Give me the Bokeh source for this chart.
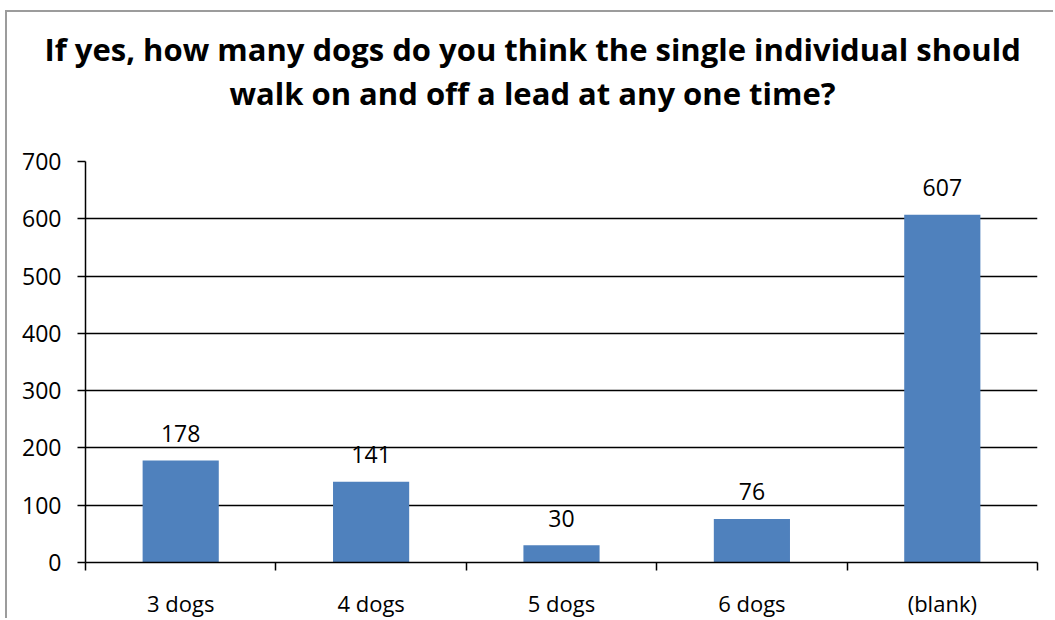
from bokeh.plotting import figure
from bokeh.models import ColumnDataSource, FixedTicker, Range1d, Title
from bokeh.core.properties import value
from bokeh.embed import file_html
from bokeh.resources import INLINE

title_lines = ["If yes, how many dogs do you think the single individual should",
               "walk on and off a lead at any one time?"]
categories = ["3 dogs", "4 dogs", "5 dogs", "6 dogs", "(blank)"]
counts = [178, 141, 30, 76, 607]
y_ticks = [0, 100, 200, 300, 400, 500, 600, 700]

FONT = "Open Sans"
BAR = "#4F81BD"

xpos = [i + 0.5 for i in range(len(categories))]
src = ColumnDataSource(dict(x=xpos, y=counts, lab=[str(c) for c in counts]))

p = figure(width=1048, height=608, output_backend="svg", toolbar_location=None,
           title=None, x_range=Range1d(0, len(categories)), y_range=Range1d(0, 700),
           min_border_left=78, min_border_right=18, min_border_top=149, min_border_bottom=58)
# chart-area frame (grey line on the left and top edges)
p.styles = {"margin-left": "5px", "margin-top": "10px",
            "border-left": "2px solid #9c9c9c", "border-top": "2px solid #9c9c9c"}

# title: spacer closest to the plot area, then line 2, then line 1
spacer = Title(text=" ", text_font_size="10px", standoff=35)
t2 = Title(text=title_lines[1], align="left", offset=144, text_font=FONT, text_font_size="31px",
           text_font_style="bold", text_color="black", standoff=0)
t1 = Title(text=title_lines[0], align="left", offset=-41, text_font=FONT, text_font_size="31px",
           text_font_style="bold", text_color="black", standoff=0)
p.add_layout(spacer, "above")
p.add_layout(t2, "above")
p.add_layout(t1, "above")

p.vbar(x="x", top="y", width=0.4, source=src, color=BAR, line_color=None)
p.text(x="x", y="y", text="lab", source=src, text_align="center", text_baseline="alphabetic",
       y_offset=-27, text_font_size="23px", text_color="black",
       text_font=value(FONT))

p.outline_line_color = None
p.background_fill_color = "white"
p.border_fill_color = "white"

# y axis
ya = p.yaxis[0]
ya.ticker = FixedTicker(ticks=y_ticks)
ya.axis_line_color = "black"
ya.axis_line_width = 1.5
ya.major_tick_line_color = "black"
ya.major_tick_line_width = 1.5
ya.major_tick_out = 8
ya.major_tick_in = 0
ya.minor_tick_line_color = None
ya.major_label_text_font = FONT
ya.major_label_text_font_size = "23px"
ya.major_label_text_color = "black"
ya.major_label_standoff = 16

# x axis: labels at centres, tick marks at category boundaries
xa = p.xaxis[0]
xa.ticker = FixedTicker(ticks=xpos, minor_ticks=list(range(len(categories) + 1)))
xa.major_label_overrides = {x: c for x, c in zip(xpos, categories)}
xa.axis_line_color = "black"
xa.axis_line_width = 1.5
xa.major_tick_line_color = None
xa.major_tick_out = 0
xa.major_tick_in = 0
xa.minor_tick_line_color = "black"
xa.minor_tick_line_width = 1.5
xa.minor_tick_out = 8
xa.minor_tick_in = 0
xa.major_label_text_font = FONT
xa.major_label_text_font_size = "22px"
xa.major_label_text_color = "black"
xa.major_label_standoff = 17

p.xgrid.grid_line_color = None
p.ygrid.ticker = FixedTicker(ticks=y_ticks)
p.ygrid.grid_line_color = "black"
p.ygrid.grid_line_width = 1.5

open("out.html", "w").write(file_html(p, INLINE))
